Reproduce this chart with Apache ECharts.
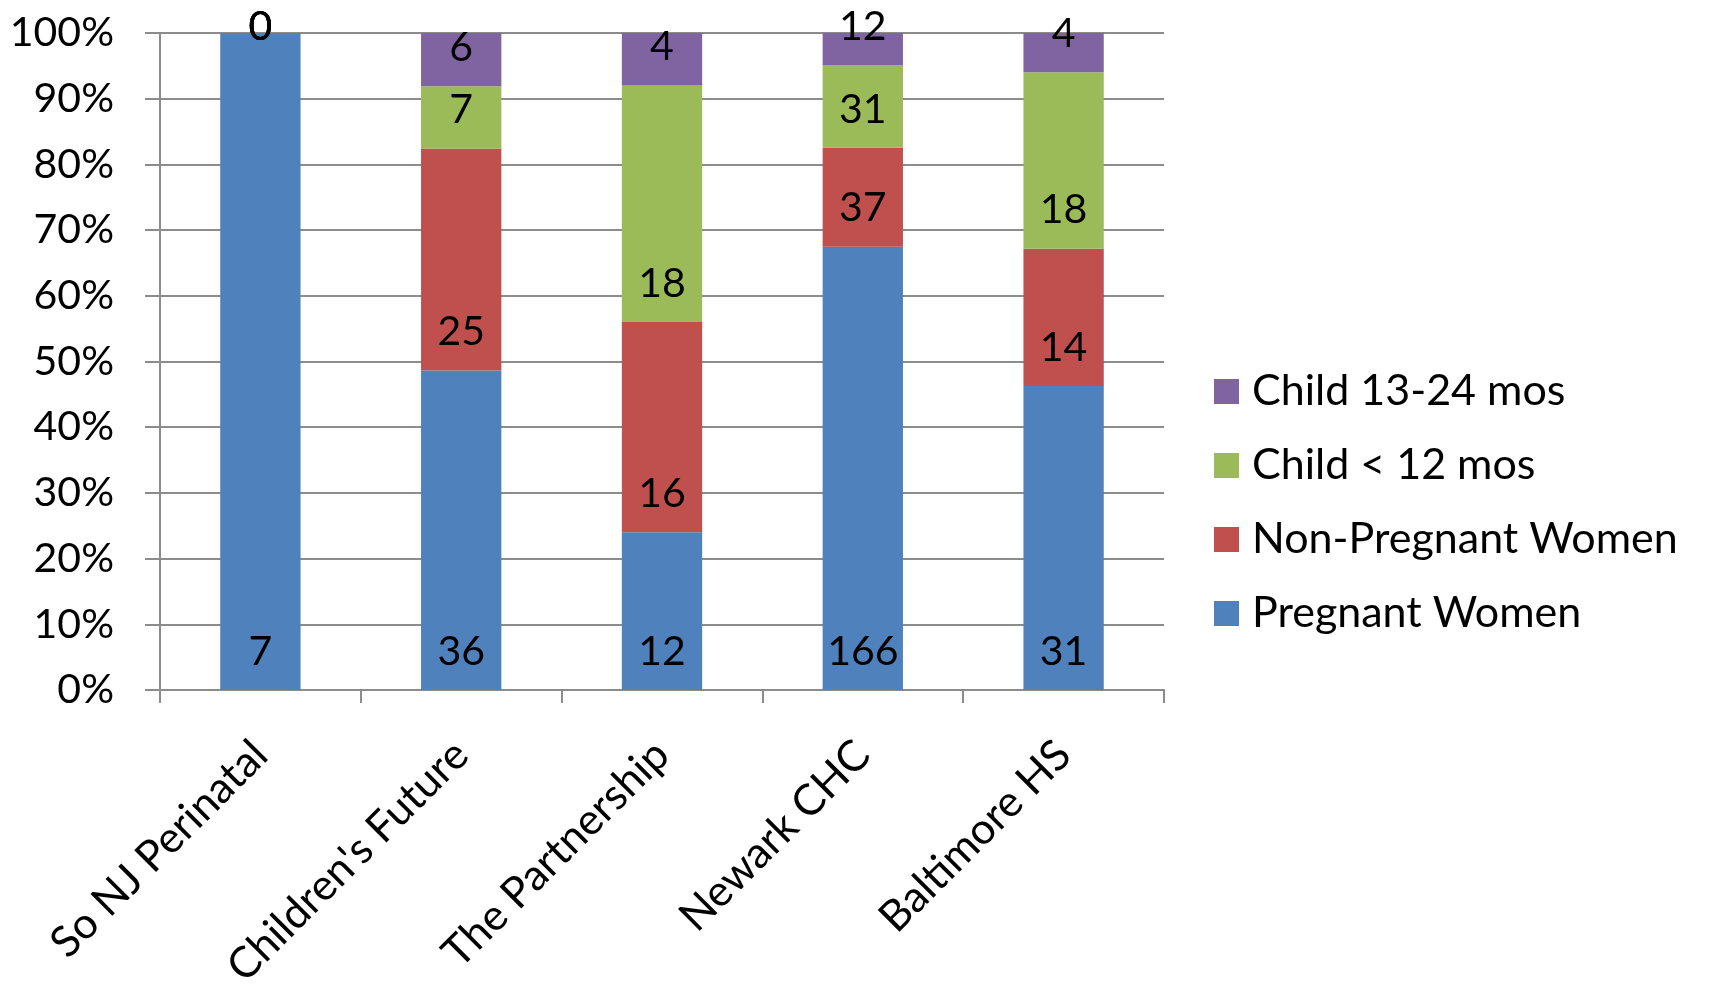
<!DOCTYPE html>
<html>
<head>
<meta charset="utf-8">
<script src="https://cdn.jsdelivr.net/npm/echarts@6/dist/echarts.min.js"></script>
<style>
  html, body { margin: 0; padding: 0; background: #fff; }
  #chart { width: 1709px; height: 986px; }
</style>
</head>
<body>
<div id="chart"></div>
<script>
const categories = ['So NJ Perinatal', "Children's Future", 'The Partnership', 'Newark CHC', 'Baltimore HS'];
const pregnantWomen = [7, 36, 12, 166, 31];
const nonPregnantWomen = [0, 25, 16, 37, 14];
const childUnder12 = [0, 7, 18, 31, 18];
const child13to24 = [0, 6, 4, 12, 4];
const seriesNames = ['Pregnant Women', 'Non-Pregnant Women', 'Child < 12 mos', 'Child 13-24 mos'];
const seriesColors = ['#4F81BD', '#C0504D', '#9BBB59', '#8064A2'];

const counts = [pregnantWomen, nonPregnantWomen, childUnder12, child13to24];
const totals = categories.map((c, i) => counts.reduce((s, arr) => s + arr[i], 0));

const FONT = 'Lato';
const FS = 41;
const FS_WIDE = 43;

const series = counts.map((arr, si) => ({
  name: seriesNames[si],
  type: 'bar',
  stack: 'total',
  barWidth: '40%',
  itemStyle: { color: seriesColors[si] },
  label: {
    show: true,
    position: 'insideBottom',
    distance: 18,
    color: '#000',
    fontFamily: FONT,
    fontSize: FS,
    formatter: p => String(arr[p.dataIndex])
  },
  data: arr.map((v, i) => {
    const item = { value: v / totals[i] * 100 };
    if (v === 0) {
      item.label = { position: 'inside', offset: [0, -6] };
    }
    return item;
  })
}));

const chart = echarts.init(document.getElementById('chart'), null, { renderer: 'canvas' });
chart.setOption({
  animation: false,
  backgroundColor: '#fff',
  textStyle: { fontFamily: FONT },
  grid: { left: 160, right: 545, top: 33, bottom: 296, containLabel: false, outerBoundsMode: 'none' },
  legend: {
    orient: 'vertical',
    left: 1209,
    top: 365,
    itemWidth: 25,
    itemHeight: 25,
    itemGap: 31,
    icon: 'rect',
    data: seriesNames.slice().reverse(),
    textStyle: { fontFamily: FONT, fontSize: FS_WIDE, color: '#000', lineHeight: 40, padding: [0, 0, 0, 8] }
  },
  xAxis: {
    type: 'category',
    data: categories,
    boundaryGap: true,
    axisLine: { show: true, lineStyle: { color: '#8c8c8c', width: 2 } },
    axisTick: { show: true, length: 13, alignWithLabel: false, lineStyle: { color: '#8c8c8c', width: 2 } },
    axisLabel: { rotate: 45, margin: 58, color: '#000', fontFamily: FONT, fontSize: FS_WIDE, interval: 0 }
  },
  yAxis: {
    type: 'value',
    min: 0,
    max: 100,
    interval: 10,
    axisLine: { show: true, lineStyle: { color: '#8c8c8c', width: 2 } },
    axisTick: { show: true, length: 15, lineStyle: { color: '#8c8c8c', width: 2 } },
    splitLine: { show: true, lineStyle: { color: '#8c8c8c', width: 2 } },
    axisLabel: { margin: 46, color: '#000', fontFamily: FONT, fontSize: FS, formatter: '{value}%' }
  },
  series: series
});
</script>
</body>
</html>
